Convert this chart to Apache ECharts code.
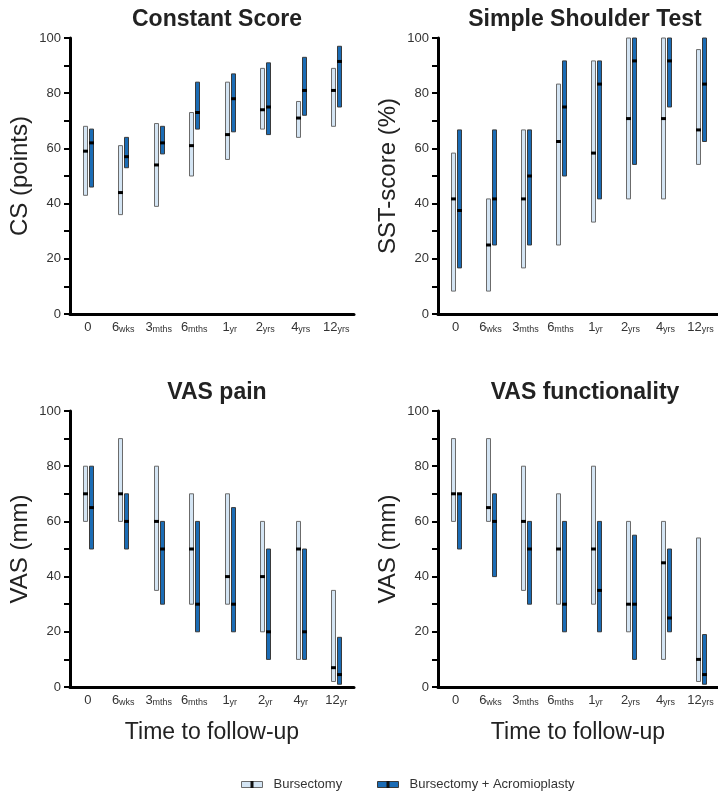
<!DOCTYPE html>
<html>
<head>
<meta charset="utf-8">
<script src="https://cdn.jsdelivr.net/npm/echarts@6/dist/echarts.min.js"></script>
<style>
  html, body { margin: 0; padding: 0; background: #fff; }
  #chart { width: 718px; height: 794px; }
</style>
</head>
<body>
<div id="chart"></div>
<script>
// categories (tick labels)
const upperLabels = ['0', '6wks', '3mths', '6mths', '1yr', '2yrs', '4yrs', '12yrs'];
const painLabels = ['0', '6wks', '3mths', '6mths', '1yr', '2yr', '4yr', '12yr'];
const funcLabels = ['0', '6wks', '3mths', '6mths', '1yr', '2yrs', '4yrs', '12yrs'];

// each entry: [min, max, median]
const csBursectomy = [[43, 68, 59], [36, 61, 44], [39, 69, 54], [50, 73, 61], [56, 84, 65], [67, 89, 74], [64, 77, 71], [68, 89, 81]];
const csAcromioplasty = [[46, 67, 62], [53, 64, 57], [58, 68, 62], [67, 84, 73], [66, 87, 78], [65, 91, 75], [72, 93, 81], [75, 97, 91.5]];

const sstBursectomy = [[8.3, 58.3, 41.7], [8.3, 41.7, 25], [16.7, 66.7, 41.7], [25, 83.3, 62.5], [33.3, 91.7, 58.3], [41.7, 100, 70.8], [41.7, 100, 70.8], [54.2, 95.8, 66.7]];
const sstAcromioplasty = [[16.7, 66.7, 37.5], [25, 66.7, 41.7], [25, 66.7, 50], [50, 91.7, 75], [41.7, 91.7, 83.3], [54.2, 100, 91.7], [75, 100, 91.7], [62.5, 100, 83.3]];

const painBursectomy = [[60, 80, 70], [60, 90, 70], [35, 80, 60], [30, 70, 50], [30, 70, 40], [20, 60, 40], [10, 60, 50], [2, 35, 7]];
const painAcromioplasty = [[50, 80, 65], [50, 70, 60], [30, 60, 50], [20, 60, 30], [20, 65, 30], [10, 50, 20], [10, 50, 20], [1, 18, 4.5]];

const funcBursectomy = [[60, 90, 70], [60, 90, 65], [35, 80, 60], [30, 70, 50], [30, 80, 50], [20, 60, 30], [10, 60, 45], [2, 54, 10]];
const funcAcromioplasty = [[50, 70, 70], [40, 70, 60], [30, 60, 50], [20, 60, 30], [20, 60, 35], [10, 55, 30], [20, 50, 25], [1, 19, 4.5]];

const FONT = '"Liberation Sans", Arial, sans-serif';
const LIGHT = '#d4e5f4';
const LIGHT_BORDER = '#6b6b6b';
const BLUE = '#1b6cb5';
const BLUE_BORDER = '#3a3a3a';

const panels = [
  { title: 'Constant Score', yName: 'CS (points)', labels: upperLabels, a: csBursectomy, b: csAcromioplasty, left: 70, top: 38, xName: '' },
  { title: 'Simple Shoulder Test', yName: 'SST-score (%)', labels: upperLabels, a: sstBursectomy, b: sstAcromioplasty, left: 438, top: 38, xName: '' },
  { title: 'VAS pain', yName: 'VAS (mm)', labels: painLabels, a: painBursectomy, b: painAcromioplasty, left: 70, top: 411, xName: 'Time to follow-up' },
  { title: 'VAS functionality', yName: 'VAS (mm)', labels: funcLabels, a: funcBursectomy, b: funcAcromioplasty, left: 438, top: 411, xName: 'Time to follow-up' }
];

function rangeItem(offset, fill, stroke) {
  return function (params, api) {
    const idx = api.value(0);
    const lo = api.coord([idx, api.value(1)]);
    const hi = api.coord([idx, api.value(2)]);
    const med = api.coord([idx, api.value(3)]);
    const x = Math.round(lo[0]) + offset;
    return {
      type: 'group',
      children: [
        { type: 'rect', shape: { x: x + 0.5, y: hi[1], width: 4, height: lo[1] - hi[1] },
          style: { fill: fill, stroke: stroke, lineWidth: 1 } },
        { type: 'rect', shape: { x: x, y: med[1] - 1.5, width: 5, height: 3 },
          style: { fill: '#000' } }
      ]
    };
  };
}

const grid = [], xAxis = [], yAxis = [], series = [], title = [];
panels.forEach((p, i) => {
  grid.push({ left: p.left, top: p.top, width: 284, height: 276 });
  title.push({
    text: p.title, left: p.left + 142, top: p.top - 35, textAlign: 'center',
    textStyle: { fontFamily: FONT, fontSize: 23, fontWeight: 'bold', color: '#222' }
  });
  xAxis.push({
    type: 'category', gridIndex: i, data: p.labels,
    name: p.xName, nameLocation: 'middle', nameGap: 34,
    nameTextStyle: { fontFamily: FONT, fontSize: 23, color: '#222' },
    axisLine: { lineStyle: { color: '#000', width: 3 } },
    axisTick: { alignWithLabel: true, length: 5, lineStyle: { color: '#000', width: 2 } },
    axisLabel: {
      margin: 7, interval: 0,
      formatter: v => {
        const m = v.match(/^(\d+)(.*)$/);
        return m[2] ? '{n|' + m[1] + '}{s|' + m[2] + '}' : '{n|' + m[1] + '}';
      },
      rich: {
        n: { fontFamily: FONT, fontSize: 13, color: '#333' },
        s: { fontFamily: FONT, fontSize: 9, color: '#333', verticalAlign: 'bottom', padding: [3, 0, 0, 0] }
      }
    },
    splitLine: { show: false }
  });
  yAxis.push({
    type: 'value', gridIndex: i, min: 0, max: 100, interval: 10,
    name: p.yName, nameLocation: 'middle', nameGap: 38,
    nameTextStyle: { fontFamily: FONT, fontSize: 24, color: '#222' },
    axisLine: { show: true, lineStyle: { color: '#000', width: 3 } },
    axisTick: { show: true, length: 6, lineStyle: { color: '#000', width: 2 } },
    axisLabel: {
      margin: 9, fontFamily: FONT, fontSize: 13, color: '#333',
      formatter: v => (v % 20 === 0 ? String(v) : '')
    },
    splitLine: { show: false }
  });
  series.push({
    type: 'custom', name: 'Bursectomy', xAxisIndex: i, yAxisIndex: i,
    renderItem: rangeItem(-5, LIGHT, LIGHT_BORDER),
    data: p.a.map((d, k) => [k, d[0], d[1], d[2]]), clip: false
  });
  series.push({
    type: 'custom', name: 'Bursectomy + Acromioplasty', xAxisIndex: i, yAxisIndex: i,
    renderItem: rangeItem(1, BLUE, BLUE_BORDER),
    data: p.b.map((d, k) => [k, d[0], d[1], d[2]]), clip: false
  });
});

// legend drawn as graphic keys
function legendKey(x, fill, stroke, label) {
  return {
    type: 'group', left: x, top: 778,
    children: [
      { type: 'rect', shape: { x: 0, y: 2, width: 21, height: 6 }, style: { fill: fill, stroke: stroke, lineWidth: 1 } },
      { type: 'rect', shape: { x: 9, y: 1.5, width: 3, height: 7 }, style: { fill: '#111' } },
      { type: 'text', x: 32, y: 5, style: { text: label, fontFamily: FONT, fontSize: 13, fill: '#333', verticalAlign: 'middle' } }
    ]
  };
}

const chart = echarts.init(document.getElementById('chart'));
chart.setOption({
  animation: false,
  backgroundColor: '#fff',
  title: title,
  grid: grid,
  xAxis: xAxis,
  yAxis: yAxis,
  series: series,
  graphic: [
    legendKey(241, LIGHT, LIGHT_BORDER, 'Bursectomy'),
    legendKey(377, BLUE, BLUE_BORDER, 'Bursectomy + Acromioplasty')
  ]
});
</script>
</body>
</html>
